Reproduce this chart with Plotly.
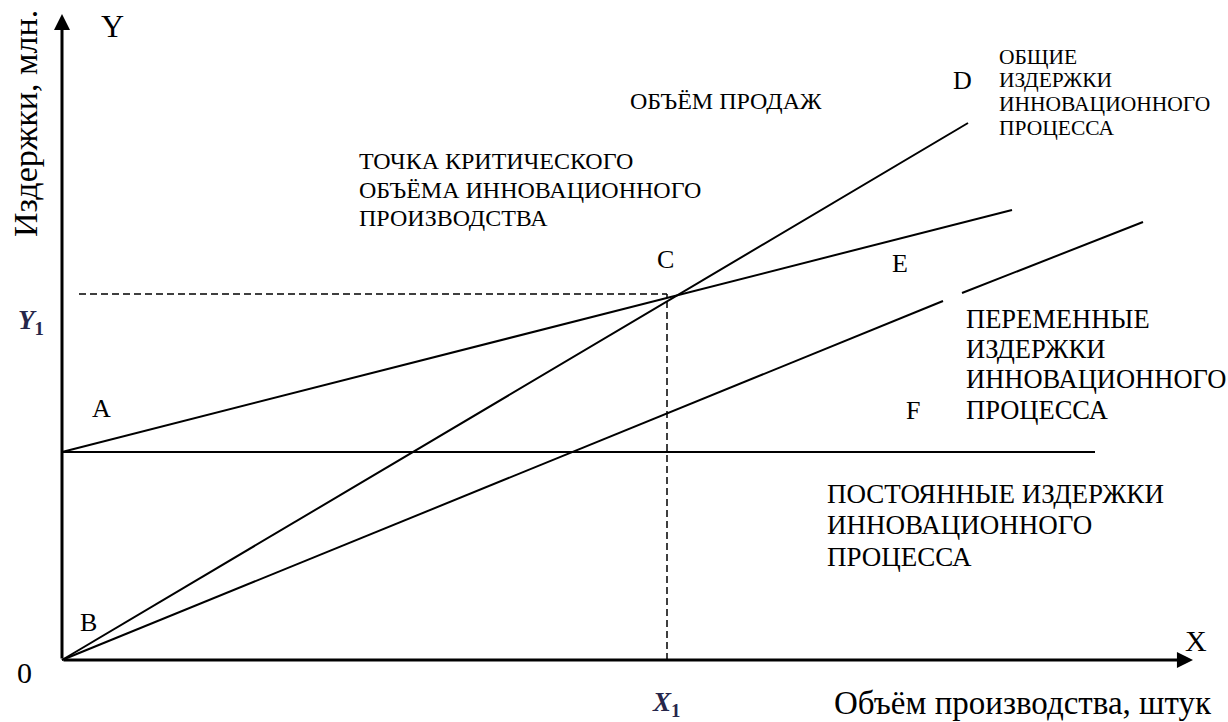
import plotly.graph_objects as go

# ---- data (schematic break-even chart, units arbitrary) ----
fixed_x = [0.0, 10.33]          # постоянные издержки
fixed_y = [2.08, 2.08]
total_x = [0.0, 9.50]           # общие издержки (A -> E)
total_y = [2.08, 4.50]
sales_x = [0.0, 9.06]           # объём продаж (B -> D)
sales_y = [0.0, 5.37]
var_x = [0.0, 8.81, None, 9.00, 10.81]   # переменные издержки
var_y = [0.0, 3.59, None, 3.67, 4.38]
x1_val = 6.05                   # X1
y1_val = 3.66                   # Y1
dash_h_start = 0.17
x_axis_end = 11.31
y_axis_end = 6.46

# ---- canvas mapping ----
W, H = 1228, 722
X0PX, Y0PX, SCALE = 62, 660, 100.0
xr = [-X0PX / SCALE, (W - X0PX) / SCALE]
yr = [-(H - Y0PX) / SCALE, Y0PX / SCALE]


def dx(px):
    return (px - X0PX) / SCALE


def dy(py):
    return (Y0PX - py) / SCALE


FONT = "Liberation Serif"
fig = go.Figure()

line_style = dict(color="black", width=2)
fig.add_trace(go.Scatter(x=fixed_x, y=fixed_y, mode="lines", line=line_style, hoverinfo="skip"))
fig.add_trace(go.Scatter(x=total_x, y=total_y, mode="lines", line=line_style, hoverinfo="skip"))
fig.add_trace(go.Scatter(x=sales_x, y=sales_y, mode="lines", line=line_style, hoverinfo="skip"))
fig.add_trace(go.Scatter(x=var_x, y=var_y, mode="lines", line=line_style, hoverinfo="skip",
                         connectgaps=False))
# dashed guides
dash_style = dict(color="black", width=1.5, dash="7px,4px")
fig.add_trace(go.Scatter(x=[dash_h_start, x1_val], y=[y1_val, y1_val], mode="lines",
                         line=dash_style, hoverinfo="skip"))
fig.add_trace(go.Scatter(x=[x1_val, x1_val], y=[0, y1_val], mode="lines",
                         line=dash_style, hoverinfo="skip"))

annotations = []
# axes as arrows
for (hx, hy) in [(0, y_axis_end), (x_axis_end, 0)]:
    annotations.append(dict(x=hx, y=hy, ax=0, ay=0, xref="x", yref="y", axref="x", ayref="y",
                            text="", showarrow=True, arrowhead=2, arrowsize=1.07,
                            arrowwidth=3, arrowcolor="black"))


def label(text, px, py, size, anchor="center", color="black", angle=0):
    annotations.append(dict(x=dx(px), y=dy(py), xref="x", yref="y", text=text,
                            showarrow=False, xanchor=anchor, yanchor="middle",
                            textangle=angle,
                            font=dict(family=FONT, size=size, color=color)))


def block(lines, left, centers, size):
    for t, c in zip(lines, centers):
        label(t, left, c, size, anchor="left")


label("Y", 112, 26, 32)
label("Издержки, млн.", 25, 124, 34, angle=-90)
label("<b><i>Y</i><sub>1</sub></b>", 31, 322, 27, color="#26264a")
label("<b><i>X</i><sub>1</sub></b>", 666, 704, 27, color="#26264a")
label("X", 1196, 640, 30)
label("0", 24, 672, 30)
label("A", 101, 408, 26)
label("B", 88, 622, 26)
label("C", 665, 259, 26)
label("D", 962, 80, 26)
label("E", 900, 263, 26)
label("F", 913, 410, 26)
label("ОБЪЁМ ПРОДАЖ", 628, 101, 24, anchor="left")
block(["ОБЩИЕ", "ИЗДЕРЖКИ", "ИННОВАЦИОННОГО", "ПРОЦЕССА"], 997, [57, 80, 104, 128], 21.5)
block(["ТОЧКА КРИТИЧЕСКОГО", "ОБЪЁМА ИННОВАЦИОННОГО", "ПРОИЗВОДСТВА"], 357, [161, 190, 218], 24)
block(["ПЕРЕМЕННЫЕ", "ИЗДЕРЖКИ", "ИННОВАЦИОННОГО", "ПРОЦЕССА"], 964, [319, 349, 379, 410], 26.5)
block(["ПОСТОЯННЫЕ ИЗДЕРЖКИ", "ИННОВАЦИОННОГО", "ПРОЦЕССА"], 825, [494, 525, 557], 27)
label("Объём производства, штук", 832, 703, 33, anchor="left")

fig.update_layout(
    width=W, height=H,
    margin=dict(l=0, r=0, t=0, b=0),
    paper_bgcolor="white", plot_bgcolor="white",
    showlegend=False,
    xaxis=dict(range=xr, visible=False, fixedrange=True),
    yaxis=dict(range=yr, visible=False, fixedrange=True),
    annotations=annotations,
)

fig.write_html("out.html", config={"displayModeBar": False},
               post_script="document.body.style.margin='0';document.body.style.overflow='hidden';")
